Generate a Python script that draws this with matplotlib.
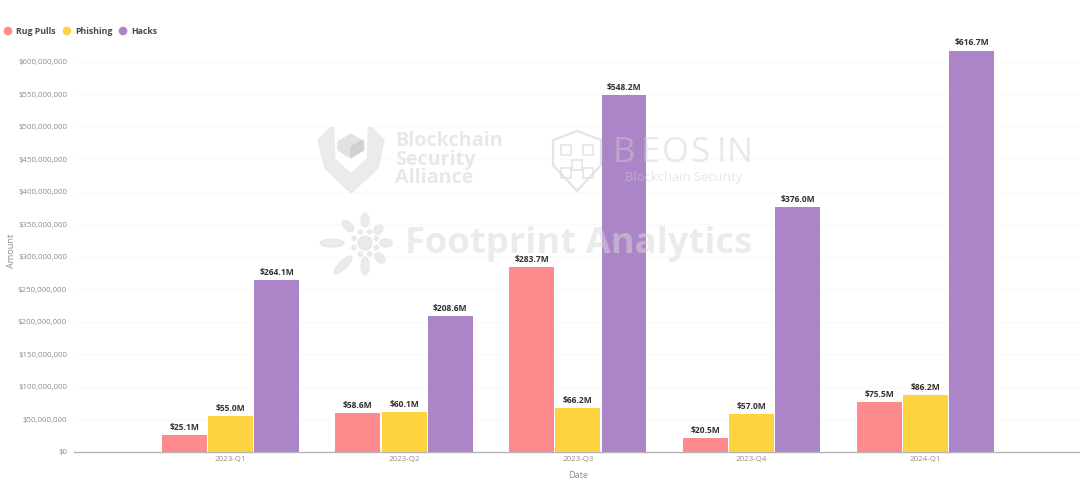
import numpy as np
import matplotlib
matplotlib.use('Agg')
import matplotlib.pyplot as plt
from matplotlib.patches import Polygon, Ellipse, Circle, Rectangle

quarters = ['2023-Q1', '2023-Q2', '2023-Q3', '2023-Q4', '2024-Q1']
rug_pulls = [25.1, 58.6, 283.7, 20.5, 75.5]
phishing = [55.0, 60.1, 66.2, 57.0, 86.2]
hacks = [264.1, 208.6, 548.2, 376.0, 616.7]
y_ticks = list(range(0, 601, 50))

W, H = 1080, 486
plt.rcParams['font.family'] = ['Open Sans', 'DejaVu Sans']

fig = plt.figure(figsize=(W / 100, H / 100), dpi=100)
# axes placed so that $0 sits at y=451.5 and $600M at y=61.5 in pixels
top_px = 30
ax = fig.add_axes([74 / W, (H - 451.5) / H, (W - 74) / W, (451.5 - top_px) / H])

# series
names = ['Rug Pulls', 'Phishing', 'Hacks']
colors = ['#FF8A8D', '#FFD23F', '#AC85C8']
x = np.arange(len(quarters))
width = 0.258
step = 0.266
for i, (vals, c) in enumerate(zip([rug_pulls, phishing, hacks], colors)):
    pos = x + (i - 1) * step
    ax.bar(pos, vals, width, color=c, zorder=2)
    for p, v in zip(pos, vals):
        ax.text(p, v + 5, '${:.1f}M'.format(v), ha='center', va='bottom',
                fontsize=6.1, color='#333333', fontweight='bold', zorder=5)

ax.set_xlim(-0.9, 4.89)
ax.set_ylim(0, (451.5 - top_px) / 32.5 * 50)
ax.set_xticks(x)
ax.set_xticklabels(quarters)
ax.set_yticks(y_ticks)
ax.set_yticklabels(['$0' if t == 0 else '${:,}'.format(t * 1000000) for t in y_ticks])
ax.tick_params(axis='both', length=0, labelsize=5.7, labelcolor='#8c8c8c')
ax.tick_params(axis='x', pad=3)
ax.tick_params(axis='y', pad=5)
ax.grid(axis='y', color='#fafafa', lw=0.8, zorder=0)
ax.set_axisbelow(True)
for s in ['top', 'right', 'left']:
    ax.spines[s].set_visible(False)
ax.spines['bottom'].set_color('#b5b5b5')
ax.spines['bottom'].set_linewidth(1.0)

fig.text(578 / W, 1 - 475.5 / H, 'Date', ha='center', va='center', fontsize=6.6, color='#8c8c8c')
fig.text(11 / W, 1 - 251 / H, 'Amount', ha='center', va='center', rotation=90, fontsize=6.6, color='#8c8c8c')

# legend
for px, c, name, tx in zip([8, 67, 123], colors, names, [16.5, 75.5, 131.5]):
    fig.add_artist(Circle((px, H - 31), 3.6, color=c, transform=None, zorder=6))
    fig.text(tx / W, 1 - 31.5 / H, name, ha='left', va='center', fontsize=6.3,
             color='#4a4a4a', fontweight='bold')

# watermarks, placed in pixel coordinates on top of the bars
wm = '#dcdcdc'
def px_patch(p):
    p.set_transform(None)
    p.set_zorder(8)
    fig.add_artist(p)

def xy(pts):
    return [(a, H - b) for a, b in pts]

for s, y0 in zip(['Blockchain', 'Security', 'Alliance'], [141, 159.5, 178]):
    fig.text(395 / W, 1 - y0 / H, s, ha='left', va='center', fontsize=14.2,
             fontweight='bold', color=wm, alpha=0.65, zorder=8)
for ch, lx in zip('BEOSIN', [613, 641, 662, 690, 717, 727]):
    fig.text(lx / W, 1 - 152.5 / H, ch, ha='left', va='center', fontsize=25,
             color='#cfcfcf', alpha=0.45, zorder=8)
fig.text(625 / W, 1 - 177 / H, 'Blockchain Security', ha='left', va='center', fontsize=9.4,
         color='#cfcfcf', alpha=0.5, zorder=8)
fig.text(405 / W, 1 - 244 / H, 'Footprint Analytics', ha='left', va='center', fontsize=26.2,
         fontweight='bold', color='#d8d8d8', alpha=0.5, zorder=8)

# Blockchain Security Alliance shield
px_patch(Polygon(xy([(318, 140), (331, 127), (351, 135), (371, 127), (384, 140), (378, 168),
                     (351, 193), (325, 168)]), closed=True, color='#e6e6e6', alpha=0.8))
px_patch(Polygon(xy([(335, 125), (367, 125), (366, 158), (351, 172), (336, 158)]),
                 closed=True, color='#ffffff', alpha=1.0))
px_patch(Polygon(xy([(338, 142), (351, 134), (364, 142), (364, 150), (351, 158), (338, 150)]),
                 closed=True, color='#e2e2e2', alpha=1.0))
px_patch(Polygon(xy([(351, 147), (363, 140), (363, 150), (351, 157)]), closed=True, color='#d0d0d0', alpha=0.9))

# Beosin shield outline
px_patch(Polygon(xy([(553, 140), (577, 131), (601, 140), (601, 165), (577, 191), (553, 165)]),
                 closed=True, fill=False, edgecolor='#dedede', linewidth=1.6, alpha=0.8))
for bx, by in [(561, 145), (583, 145), (572, 160), (561, 168), (583, 168)]:
    px_patch(Rectangle((bx, H - by - 10), 10, 10, fill=False, edgecolor='#dedede', linewidth=1.2, alpha=0.8))

# Footprint sunburst, long rays to the left and lower left
cx, cy = 365, 243
px_patch(Circle((cx, H - cy), 7, color='#e4e4e4', alpha=0.8))
rays = {0: (21, 13), 45: (19, 10), 90: (23, 14), 135: (24, 14), 180: (33, 24),
        225: (31, 24), 270: (23, 18), 315: (21, 12)}
for deg, (r, ln) in rays.items():
    a = np.radians(deg)
    px_patch(Ellipse((cx + r * np.cos(a), H - cy + r * np.sin(a)), ln, 8, angle=deg,
                     color='#e6e6e6', alpha=0.8))
    px_patch(Circle((cx + 12 * np.cos(a + 0.39), H - cy - 12 * np.sin(a + 0.39)), 2.2,
                    color='#e6e6e6', alpha=0.8))

fig.savefig('out.png', dpi=100)
